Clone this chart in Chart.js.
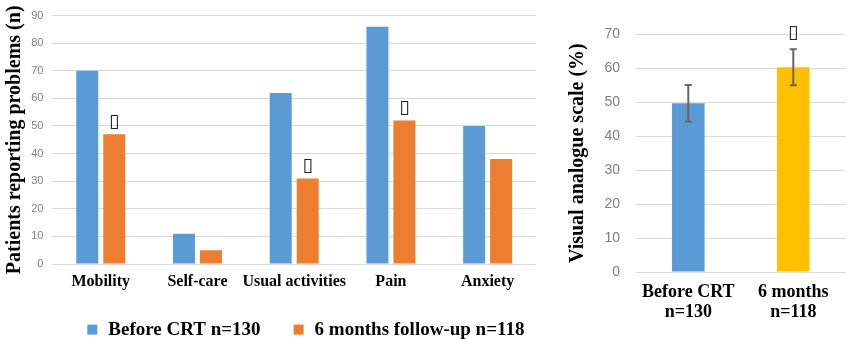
<!DOCTYPE html>
<html>
<head>
<meta charset="utf-8">
<script src="https://cdn.jsdelivr.net/npm/chart.js@4.4.1/dist/chart.umd.min.js"></script>
<style>
  html, body { margin: 0; padding: 0; background: #fff; overflow: hidden; width: 847px; height: 339px; }
  #dims { position: absolute; left: 0; top: 0; width: 560px; height: 339px; }
  #vas  { position: absolute; left: 556px; top: 0; width: 291px; height: 339px; }
</style>
</head>
<body>
<div id="dims"><canvas id="dimsChart"></canvas></div>
<div id="vas"><canvas id="vasChart"></canvas></div>
<script>
// EQ-5D dimensions: patients reporting problems
const dimensions = ['Mobility', 'Self-care', 'Usual activities', 'Pain', 'Anxiety'];
const beforeCRT = [70, 11, 62, 86, 50];
const followUp = [47, 5, 31, 52, 38];
const followUpSignificant = [true, false, true, true, false];
const seriesNames = ['Before CRT n=130', '6 months follow-up n=118'];
const problemTicks = [0, 10, 20, 30, 40, 50, 60, 70, 80, 90];

// Visual analogue scale: mean and spread
const vasGroups = [['Before CRT', 'n=130'], ['6 months', 'n=118']];
const vasMean = [49.7, 60.3];
const vasSd = [5.4, 5.3];
const vasSignificant = [false, true];
const vasTicks = [0, 10, 20, 30, 40, 50, 60, 70];

const markerGlyph = '\u25AF';

const serif = "'Liberation Serif', 'Times New Roman', serif";
const sans = "'Liberation Sans', Arial, sans-serif";
const gridColor = '#d9d9d9';
const tickColor = '#7f7f7f';
const markerFont = "19px 'DejaVu Sans'";

// Significance marks above the follow-up bars
const dimsMarkers = {
  id: 'dimsMarkers',
  afterDatasetsDraw(chart) {
    const { ctx } = chart;
    const meta = chart.getDatasetMeta(1);
    ctx.save();
    ctx.font = markerFont;
    ctx.fillStyle = '#222';
    ctx.textAlign = 'center';
    ctx.textBaseline = 'middle';
    followUpSignificant.forEach((sig, i) => {
      if (!sig) return;
      const bar = meta.data[i];
      ctx.fillText(markerGlyph, bar.x, bar.y - 12.5);
    });
    ctx.restore();
  }
};

// One-row legend under the category labels, built from the datasets
const legendRow = {
  id: 'legendRow',
  afterDraw(chart) {
    const { ctx } = chart;
    const yMid = 329.6;
    let x = 87.3;
    ctx.save();
    ctx.font = 'bold 19px ' + serif;
    ctx.textAlign = 'left';
    ctx.textBaseline = 'middle';
    chart.data.datasets.forEach((ds) => {
      ctx.fillStyle = ds.backgroundColor;
      ctx.fillRect(x, yMid - 5, 10, 10);
      x += 10 + 11;
      ctx.fillStyle = '#000';
      ctx.fillText(ds.label, x, yMid);
      x += ctx.measureText(ds.label).width + 33;
    });
    ctx.restore();
  }
};

new Chart(document.getElementById('dimsChart'), {
  type: 'bar',
  data: {
    labels: dimensions,
    datasets: [
      { label: seriesNames[0], data: beforeCRT, backgroundColor: '#5B9BD5',
        categoryPercentage: 0.558, barPercentage: 0.815 },
      { label: seriesNames[1], data: followUp, backgroundColor: '#ED7D31',
        categoryPercentage: 0.558, barPercentage: 0.815 }
    ]
  },
  options: {
    responsive: true,
    maintainAspectRatio: false,
    animation: false,
    events: [],
    layout: { padding: { top: 13.3, right: 24, left: 0, bottom: 47.8 } },
    plugins: {
      legend: { display: false },
      tooltip: { enabled: false }
    },
    scales: {
      x: {
        afterFit: (s) => { s.height = 27.2; },
        grid: { display: false, drawTicks: false },
        border: { display: false },
        ticks: {
          padding: 8, color: '#000', maxRotation: 0, autoSkip: false,
          font: { family: serif, size: 16, weight: 'bold' }
        }
      },
      y: {
        min: 0,
        max: 90,
        afterBuildTicks: (s) => { s.ticks = problemTicks.map(v => ({ value: v })); },
        afterFit: (s) => { s.width = 52.4; },
        grid: { color: gridColor, drawTicks: false },
        border: { display: false },
        ticks: { padding: 9, color: tickColor, font: { family: sans, size: 11 } },
        title: {
          display: true,
          text: 'Patients reporting problems (n)',
          color: '#000',
          font: { family: serif, size: 20, weight: 'bold' },
          padding: { top: 3, bottom: 0 }
        }
      }
    }
  },
  plugins: [dimsMarkers, legendRow]
});

// Error bars and significance mark for the VAS chart
const vasOverlay = {
  id: 'vasOverlay',
  afterDatasetsDraw(chart) {
    const { ctx } = chart;
    const meta = chart.getDatasetMeta(0);
    const y = chart.scales.y;
    ctx.save();
    ctx.strokeStyle = '#666';
    ctx.lineWidth = 2;
    vasMean.forEach((m, i) => {
      const x = meta.data[i].x;
      const yTop = y.getPixelForValue(m + vasSd[i]);
      const yBot = y.getPixelForValue(m - vasSd[i]);
      ctx.beginPath();
      ctx.moveTo(x, yTop); ctx.lineTo(x, yBot);
      ctx.moveTo(x - 3.5, yTop); ctx.lineTo(x + 3.5, yTop);
      ctx.moveTo(x - 3.5, yBot); ctx.lineTo(x + 3.5, yBot);
      ctx.stroke();
      if (vasSignificant[i]) {
        ctx.font = markerFont;
        ctx.fillStyle = '#222';
        ctx.textAlign = 'center';
        ctx.textBaseline = 'middle';
        ctx.fillText(markerGlyph, x, yTop - 16);
      }
    });
    ctx.restore();
  }
};

new Chart(document.getElementById('vasChart'), {
  type: 'bar',
  data: {
    labels: vasGroups,
    datasets: [{
      label: 'Visual analogue scale',
      data: vasMean,
      backgroundColor: ['#5B9BD5', '#FFC000'],
      categoryPercentage: 1,
      barPercentage: 0.31
    }]
  },
  options: {
    responsive: true,
    maintainAspectRatio: false,
    animation: false,
    events: [],
    layout: { padding: { top: 34.3, right: 1.2, left: 0, bottom: 17 } },
    plugins: {
      legend: { display: false },
      tooltip: { enabled: false }
    },
    scales: {
      x: {
        afterFit: (s) => { s.height = 50; },
        grid: { display: false, drawTicks: false },
        border: { display: false },
        ticks: {
          padding: 10.4, color: '#000', maxRotation: 0, autoSkip: false,
          font: { family: serif, size: 18, weight: 'bold', lineHeight: 1.1 }
        }
      },
      y: {
        min: 0,
        max: 70,
        afterBuildTicks: (s) => { s.ticks = vasTicks.map(v => ({ value: v })); },
        afterFit: (s) => { s.width = 79.8; },
        grid: { color: gridColor, drawTicks: false },
        border: { display: false },
        ticks: { padding: 15.8, color: tickColor, font: { family: sans, size: 14 } },
        title: {
          display: true,
          text: 'Visual analogue scale (%)',
          color: '#000',
          font: { family: serif, size: 20, weight: 'bold' },
          padding: { top: 10.3, bottom: 0 }
        }
      }
    }
  },
  plugins: [vasOverlay]
});
</script>
</body>
</html>
